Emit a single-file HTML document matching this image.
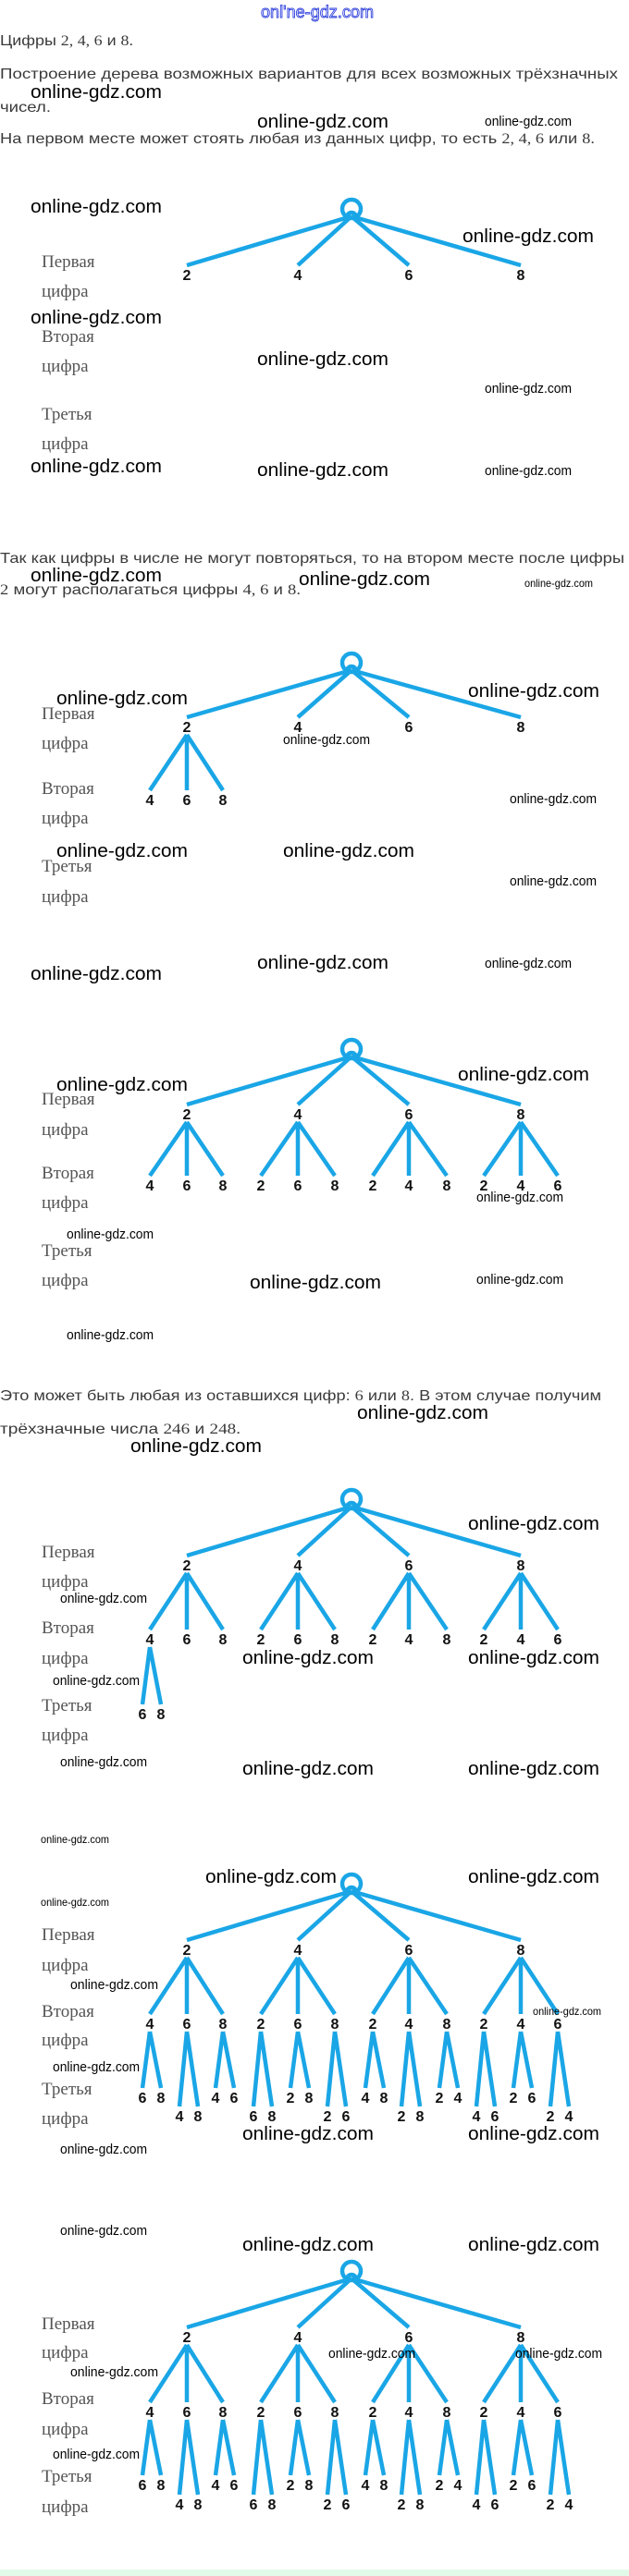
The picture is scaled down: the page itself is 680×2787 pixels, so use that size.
<!DOCTYPE html>
<html><head><meta charset="utf-8"><style>
html,body{margin:0;padding:0;background:#fff;width:680px;height:2787px;overflow:hidden}
svg{display:block}
.t{font-family:"Liberation Sans",sans-serif;font-size:16px;fill:#3a3a3a}
.n{font-family:"Liberation Serif",serif}
.lb{font-family:"Liberation Serif",serif;font-size:19px;fill:#555}
.d{font-family:"Liberation Sans",sans-serif;font-size:16px;font-weight:bold;fill:#111;text-anchor:middle}
.wb{font-family:"Liberation Sans",sans-serif;font-size:20px;fill:#000}
.wm{font-family:"Liberation Sans",sans-serif;font-size:15px;fill:#000}
.wt{font-family:"Liberation Sans",sans-serif;font-size:12px;fill:#000}
.ln{fill:none;stroke:#1aa6e6;stroke-width:4.5}
</style></head><body>
<svg width="680" height="2787" viewBox="0 0 680 2787" xmlns="http://www.w3.org/2000/svg">
<rect x="0" y="2780" width="680" height="7" fill="#e2fbe9"/>
<text x="282" y="19" font-family="Liberation Sans,sans-serif" font-size="18" fill="#fff" stroke="#3344dd" stroke-width="0.9" textLength="122" lengthAdjust="spacingAndGlyphs">onl'ne-gdz.com</text>

<text class="t" x="0" y="49" textLength="144" lengthAdjust="spacingAndGlyphs">Цифры <tspan class="n">2, 4, 6</tspan> и <tspan class="n">8.</tspan></text>
<text class="t" x="0" y="85" textLength="668" lengthAdjust="spacingAndGlyphs">Построение дерева возможных вариантов для всех возможных трёхзначных</text>
<text class="t" x="0" y="121" textLength="55" lengthAdjust="spacingAndGlyphs">чисел.</text>
<text class="t" x="0" y="155" textLength="643" lengthAdjust="spacingAndGlyphs">На первом месте может стоять любая из данных цифр, то есть <tspan class="n">2, 4, 6</tspan> или <tspan class="n">8.</tspan></text>

<text class="t" x="0" y="609" textLength="675" lengthAdjust="spacingAndGlyphs">Так как цифры в числе не могут повторяться, то на втором месте после цифры</text>
<text class="t" x="0" y="643" textLength="325" lengthAdjust="spacingAndGlyphs"><tspan class="n">2</tspan> могут располагаться цифры <tspan class="n">4, 6</tspan> и <tspan class="n">8.</tspan></text>

<text class="t" x="0" y="1515" textLength="650" lengthAdjust="spacingAndGlyphs">Это может быть любая из оставшихся цифр: <tspan class="n">6</tspan> или <tspan class="n">8</tspan>. В этом случае получим</text>
<text class="t" x="0" y="1551" textLength="260" lengthAdjust="spacingAndGlyphs">трёхзначные числа <tspan class="n">246</tspan> и <tspan class="n">248.</tspan></text>

<g class="lb">
<text x="45" y="289">Первая</text><text x="45" y="321">цифра</text><text x="45" y="370">Вторая</text><text x="45" y="402">цифра</text><text x="45" y="454">Третья</text><text x="45" y="486">цифра</text>
<text x="45" y="778">Первая</text><text x="45" y="810">цифра</text><text x="45" y="859">Вторая</text><text x="45" y="891">цифра</text><text x="45" y="943">Третья</text><text x="45" y="976">цифра</text>
<text x="45" y="1195">Первая</text><text x="45" y="1228">цифра</text><text x="45" y="1275">Вторая</text><text x="45" y="1307">цифра</text><text x="45" y="1359">Третья</text><text x="45" y="1391">цифра</text>
<text x="45" y="1685">Первая</text><text x="45" y="1717">цифра</text><text x="45" y="1767">Вторая</text><text x="45" y="1800">цифра</text><text x="45" y="1851">Третья</text><text x="45" y="1883">цифра</text>
<text x="45" y="2099">Первая</text><text x="45" y="2132">цифра</text><text x="45" y="2182">Вторая</text><text x="45" y="2213">цифра</text><text x="45" y="2266">Третья</text><text x="45" y="2298">цифра</text>
<text x="45" y="2520">Первая</text><text x="45" y="2551">цифра</text><text x="45" y="2601">Вторая</text><text x="45" y="2634">цифра</text><text x="45" y="2685">Третья</text><text x="45" y="2718">цифра</text>
</g>

<!-- Tree 1 -->
<g transform="translate(0,226)">
<circle cx="380" cy="0" r="10" class="ln"/><path class="ln" d="M375 9A5 5 0 0 1 385 9"/>
<path class="ln" d="M380 8L202 61M380 8L322 61M380 8L442 61M380 8L563 61"/>
<g class="d"><text x="202" y="77">2</text><text x="322" y="77">4</text><text x="442" y="77">6</text><text x="563" y="77">8</text></g>
</g>

<!-- Tree 2 -->
<g transform="translate(0,717)">
<circle cx="380" cy="0" r="10" class="ln"/><path class="ln" d="M375 9A5 5 0 0 1 385 9"/>
<path class="ln" d="M380 8L202 59M380 8L322 59M380 8L442 59M380 8L563 59"/>
<path class="ln" d="M202 78L162 138M202 78L202 138M202 78L241 138"/>
<g class="d"><text x="202" y="75">2</text><text x="322" y="75">4</text><text x="442" y="75">6</text><text x="563" y="75">8</text>
<text x="162" y="154">4</text><text x="202" y="154">6</text><text x="241" y="154">8</text></g>
</g>

<!-- Tree 3 -->
<g transform="translate(0,1135)">
<circle cx="380" cy="0" r="10" class="ln"/><path class="ln" d="M375 9A5 5 0 0 1 385 9"/>
<path class="ln" d="M380 8L202 60M380 8L322 60M380 8L442 60M380 8L563 60"/>
<path class="ln" d="M202 79L162 137M202 79L202 137M202 79L241 137M322 79L282 137M322 79L322 137M322 79L362 137M442 79L403 137M442 79L442 137M442 79L483 137M563 79L523 137M563 79L563 137M563 79L603 137"/>
<g class="d"><text x="202" y="76">2</text><text x="322" y="76">4</text><text x="442" y="76">6</text><text x="563" y="76">8</text>
<text x="162" y="153">4</text><text x="202" y="153">6</text><text x="241" y="153">8</text><text x="282" y="153">2</text><text x="322" y="153">6</text><text x="362" y="153">8</text><text x="403" y="153">2</text><text x="442" y="153">4</text><text x="483" y="153">8</text><text x="523" y="153">2</text><text x="563" y="153">4</text><text x="603" y="153">6</text></g>
</g>

<!-- Tree 4 -->
<g transform="translate(0,1622)">
<circle cx="380" cy="0" r="10" class="ln"/><path class="ln" d="M375 9A5 5 0 0 1 385 9"/>
<path class="ln" d="M380 8L202 61M380 8L322 61M380 8L442 61M380 8L563 61"/>
<path class="ln" d="M202 80L162 141M202 80L202 141M202 80L241 141M322 80L282 141M322 80L322 141M322 80L362 141M442 80L403 141M442 80L442 141M442 80L483 141M563 80L523 141M563 80L563 141M563 80L603 141"/>
<path class="ln" d="M162 160L154 222M162 160L174 222"/>
<g class="d"><text x="202" y="77">2</text><text x="322" y="77">4</text><text x="442" y="77">6</text><text x="563" y="77">8</text>
<text x="162" y="157">4</text><text x="202" y="157">6</text><text x="241" y="157">8</text><text x="282" y="157">2</text><text x="322" y="157">6</text><text x="362" y="157">8</text><text x="403" y="157">2</text><text x="442" y="157">4</text><text x="483" y="157">8</text><text x="523" y="157">2</text><text x="563" y="157">4</text><text x="603" y="157">6</text>
<text x="154" y="238">6</text><text x="174" y="238">8</text></g>
</g>

<!-- Tree 5 -->
<g transform="translate(0,2038)">
<circle cx="380" cy="0" r="10" class="ln"/><path class="ln" d="M375 9A5 5 0 0 1 385 9"/>
<path class="ln" d="M380 8L202 61M380 8L322 61M380 8L442 61M380 8L563 61"/>
<path class="ln" d="M202 80L162 141M202 80L202 141M202 80L241 141M322 80L282 141M322 80L322 141M322 80L362 141M442 80L403 141M442 80L442 141M442 80L483 141M563 80L523 141M563 80L563 141M563 80L603 141"/>
<path class="ln" d="M162 160L154 221M162 160L174 221M202 160L194 241M202 160L214 241M241 160L233 221M241 160L253 221M282 160L274 241M282 160L294 241M322 160L314 221M322 160L334 221M362 160L354 241M362 160L374 241M403 160L395 221M403 160L415 221M442 160L434 241M442 160L454 241M483 160L475 221M483 160L495 221M523 160L515 241M523 160L535 241M563 160L555 221M563 160L575 221M603 160L595 241M603 160L615 241"/>
<g class="d"><text x="202" y="77">2</text><text x="322" y="77">4</text><text x="442" y="77">6</text><text x="563" y="77">8</text>
<text x="162" y="157">4</text><text x="202" y="157">6</text><text x="241" y="157">8</text><text x="282" y="157">2</text><text x="322" y="157">6</text><text x="362" y="157">8</text><text x="403" y="157">2</text><text x="442" y="157">4</text><text x="483" y="157">8</text><text x="523" y="157">2</text><text x="563" y="157">4</text><text x="603" y="157">6</text>
<text x="154" y="237">6</text><text x="174" y="237">8</text><text x="194" y="257">4</text><text x="214" y="257">8</text><text x="233" y="237">4</text><text x="253" y="237">6</text><text x="274" y="257">6</text><text x="294" y="257">8</text><text x="314" y="237">2</text><text x="334" y="237">8</text><text x="354" y="257">2</text><text x="374" y="257">6</text><text x="395" y="237">4</text><text x="415" y="237">8</text><text x="434" y="257">2</text><text x="454" y="257">8</text><text x="475" y="237">2</text><text x="495" y="237">4</text><text x="515" y="257">4</text><text x="535" y="257">6</text><text x="555" y="237">2</text><text x="575" y="237">6</text><text x="595" y="257">2</text><text x="615" y="257">4</text></g>
</g>

<!-- Tree 6 -->
<g transform="translate(0,2457)">
<circle cx="380" cy="0" r="10" class="ln"/><path class="ln" d="M375 9A5 5 0 0 1 385 9"/>
<path class="ln" d="M380 8L202 61M380 8L322 61M380 8L442 61M380 8L563 61"/>
<path class="ln" d="M202 80L162 142M202 80L202 142M202 80L241 142M322 80L282 142M322 80L322 142M322 80L362 142M442 80L403 142M442 80L442 142M442 80L483 142M563 80L523 142M563 80L563 142M563 80L603 142"/>
<path class="ln" d="M162 161L154 221M162 161L174 221M202 161L194 242M202 161L214 242M241 161L233 221M241 161L253 221M282 161L274 242M282 161L294 242M322 161L314 221M322 161L334 221M362 161L354 242M362 161L374 242M403 161L395 221M403 161L415 221M442 161L434 242M442 161L454 242M483 161L475 221M483 161L495 221M523 161L515 242M523 161L535 242M563 161L555 221M563 161L575 221M603 161L595 242M603 161L615 242"/>
<g class="d"><text x="202" y="77">2</text><text x="322" y="77">4</text><text x="442" y="77">6</text><text x="563" y="77">8</text>
<text x="162" y="158">4</text><text x="202" y="158">6</text><text x="241" y="158">8</text><text x="282" y="158">2</text><text x="322" y="158">6</text><text x="362" y="158">8</text><text x="403" y="158">2</text><text x="442" y="158">4</text><text x="483" y="158">8</text><text x="523" y="158">2</text><text x="563" y="158">4</text><text x="603" y="158">6</text>
<text x="154" y="237">6</text><text x="174" y="237">8</text><text x="194" y="258">4</text><text x="214" y="258">8</text><text x="233" y="237">4</text><text x="253" y="237">6</text><text x="274" y="258">6</text><text x="294" y="258">8</text><text x="314" y="237">2</text><text x="334" y="237">8</text><text x="354" y="258">2</text><text x="374" y="258">6</text><text x="395" y="237">4</text><text x="415" y="237">8</text><text x="434" y="258">2</text><text x="454" y="258">8</text><text x="475" y="237">2</text><text x="495" y="237">4</text><text x="515" y="258">4</text><text x="535" y="258">6</text><text x="555" y="237">2</text><text x="575" y="237">6</text><text x="595" y="258">2</text><text x="615" y="258">4</text></g>
</g>

<g class="wb">
<text x="33" y="106" textLength="142" lengthAdjust="spacingAndGlyphs">online-gdz.com</text>
<text x="278" y="138" textLength="142" lengthAdjust="spacingAndGlyphs">online-gdz.com</text>
<text x="33" y="230" textLength="142" lengthAdjust="spacingAndGlyphs">online-gdz.com</text>
<text x="500" y="262" textLength="142" lengthAdjust="spacingAndGlyphs">online-gdz.com</text>
<text x="33" y="350" textLength="142" lengthAdjust="spacingAndGlyphs">online-gdz.com</text>
<text x="278" y="395" textLength="142" lengthAdjust="spacingAndGlyphs">online-gdz.com</text>
<text x="33" y="511" textLength="142" lengthAdjust="spacingAndGlyphs">online-gdz.com</text>
<text x="278" y="515" textLength="142" lengthAdjust="spacingAndGlyphs">online-gdz.com</text>
<text x="33" y="629" textLength="142" lengthAdjust="spacingAndGlyphs">online-gdz.com</text>
<text x="323" y="633" textLength="142" lengthAdjust="spacingAndGlyphs">online-gdz.com</text>
<text x="61" y="762" textLength="142" lengthAdjust="spacingAndGlyphs">online-gdz.com</text>
<text x="506" y="754" textLength="142" lengthAdjust="spacingAndGlyphs">online-gdz.com</text>
<text x="61" y="927" textLength="142" lengthAdjust="spacingAndGlyphs">online-gdz.com</text>
<text x="306" y="927" textLength="142" lengthAdjust="spacingAndGlyphs">online-gdz.com</text>
<text x="278" y="1048" textLength="142" lengthAdjust="spacingAndGlyphs">online-gdz.com</text>
<text x="33" y="1060" textLength="142" lengthAdjust="spacingAndGlyphs">online-gdz.com</text>
<text x="61" y="1180" textLength="142" lengthAdjust="spacingAndGlyphs">online-gdz.com</text>
<text x="495" y="1169" textLength="142" lengthAdjust="spacingAndGlyphs">online-gdz.com</text>
<text x="270" y="1394" textLength="142" lengthAdjust="spacingAndGlyphs">online-gdz.com</text>
<text x="386" y="1535" textLength="142" lengthAdjust="spacingAndGlyphs">online-gdz.com</text>
<text x="141" y="1571" textLength="142" lengthAdjust="spacingAndGlyphs">online-gdz.com</text>
<text x="506" y="1655" textLength="142" lengthAdjust="spacingAndGlyphs">online-gdz.com</text>
<text x="262" y="1800" textLength="142" lengthAdjust="spacingAndGlyphs">online-gdz.com</text>
<text x="506" y="1800" textLength="142" lengthAdjust="spacingAndGlyphs">online-gdz.com</text>
<text x="262" y="1920" textLength="142" lengthAdjust="spacingAndGlyphs">online-gdz.com</text>
<text x="506" y="1920" textLength="142" lengthAdjust="spacingAndGlyphs">online-gdz.com</text>
<text x="222" y="2037" textLength="142" lengthAdjust="spacingAndGlyphs">online-gdz.com</text>
<text x="506" y="2037" textLength="142" lengthAdjust="spacingAndGlyphs">online-gdz.com</text>
<text x="262" y="2315" textLength="142" lengthAdjust="spacingAndGlyphs">online-gdz.com</text>
<text x="506" y="2315" textLength="142" lengthAdjust="spacingAndGlyphs">online-gdz.com</text>
<text x="262" y="2435" textLength="142" lengthAdjust="spacingAndGlyphs">online-gdz.com</text>
<text x="506" y="2435" textLength="142" lengthAdjust="spacingAndGlyphs">online-gdz.com</text>
</g>
<g class="wm">
<text x="524" y="136" textLength="94" lengthAdjust="spacingAndGlyphs">online-gdz.com</text>
<text x="524" y="425" textLength="94" lengthAdjust="spacingAndGlyphs">online-gdz.com</text>
<text x="524" y="514" textLength="94" lengthAdjust="spacingAndGlyphs">online-gdz.com</text>
<text x="306" y="805" textLength="94" lengthAdjust="spacingAndGlyphs">online-gdz.com</text>
<text x="551" y="869" textLength="94" lengthAdjust="spacingAndGlyphs">online-gdz.com</text>
<text x="551" y="958" textLength="94" lengthAdjust="spacingAndGlyphs">online-gdz.com</text>
<text x="524" y="1047" textLength="94" lengthAdjust="spacingAndGlyphs">online-gdz.com</text>
<text x="515" y="1300" textLength="94" lengthAdjust="spacingAndGlyphs">online-gdz.com</text>
<text x="72" y="1340" textLength="94" lengthAdjust="spacingAndGlyphs">online-gdz.com</text>
<text x="515" y="1389" textLength="94" lengthAdjust="spacingAndGlyphs">online-gdz.com</text>
<text x="72" y="1449" textLength="94" lengthAdjust="spacingAndGlyphs">online-gdz.com</text>
<text x="65" y="1734" textLength="94" lengthAdjust="spacingAndGlyphs">online-gdz.com</text>
<text x="57" y="1823" textLength="94" lengthAdjust="spacingAndGlyphs">online-gdz.com</text>
<text x="65" y="1911" textLength="94" lengthAdjust="spacingAndGlyphs">online-gdz.com</text>
<text x="76" y="2152" textLength="95" lengthAdjust="spacingAndGlyphs">online-gdz.com</text>
<text x="57" y="2241" textLength="94" lengthAdjust="spacingAndGlyphs">online-gdz.com</text>
<text x="65" y="2330" textLength="94" lengthAdjust="spacingAndGlyphs">online-gdz.com</text>
<text x="65" y="2418" textLength="94" lengthAdjust="spacingAndGlyphs">online-gdz.com</text>
<text x="355" y="2551" textLength="94" lengthAdjust="spacingAndGlyphs">online-gdz.com</text>
<text x="557" y="2551" textLength="94" lengthAdjust="spacingAndGlyphs">online-gdz.com</text>
<text x="76" y="2571" textLength="95" lengthAdjust="spacingAndGlyphs">online-gdz.com</text>
<text x="57" y="2660" textLength="94" lengthAdjust="spacingAndGlyphs">online-gdz.com</text>
</g>
<g class="wt">
<text x="567" y="635" textLength="74" lengthAdjust="spacingAndGlyphs">online-gdz.com</text>
<text x="44" y="1994" textLength="74" lengthAdjust="spacingAndGlyphs">online-gdz.com</text>
<text x="44" y="2062" textLength="74" lengthAdjust="spacingAndGlyphs">online-gdz.com</text>
<text x="576" y="2180" textLength="74" lengthAdjust="spacingAndGlyphs">online-gdz.com</text>
</g>
</svg>
</body></html>
